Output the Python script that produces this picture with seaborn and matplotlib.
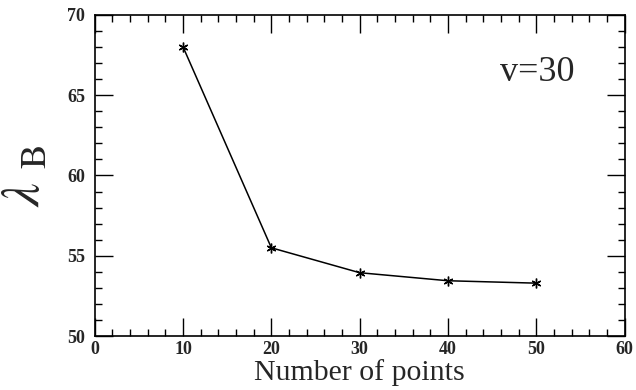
import matplotlib
matplotlib.use("Agg")
import matplotlib.pyplot as plt
from matplotlib.ticker import MultipleLocator
import seaborn as sns
import pandas as pd

# values
n_points = [10, 20, 30, 40, 50]
lambda_b = [68.0, 55.5, 53.95, 53.45, 53.3]

df = pd.DataFrame({"n": n_points, "lam": lambda_b})

sns.set_style("ticks")
plt.rcParams["font.family"] = ["Liberation Serif", "DejaVu Serif"]
plt.rcParams["mathtext.fontset"] = "stix"

fig = plt.figure(figsize=(6.36, 3.9), dpi=100)
ax = fig.add_axes([0.149, 0.138, 0.833, 0.824])

sns.lineplot(data=df, x="n", y="lam", ax=ax, color="black", linewidth=1.1,
             marker=(6, 2, 0), markersize=7, markeredgewidth=1.0,
             markeredgecolor="black")

ax.set_xlim(0, 60)
ax.set_ylim(50, 70)
ax.xaxis.set_major_locator(MultipleLocator(10))
ax.xaxis.set_minor_locator(MultipleLocator(2))
ax.yaxis.set_major_locator(MultipleLocator(5))
ax.yaxis.set_minor_locator(MultipleLocator(1))
ax.tick_params(which="both", direction="in", top=True, right=True,
               labelsize=13, width=1.0, color="black")
ax.tick_params(which="major", length=13)
ax.tick_params(which="minor", length=5)
ax.tick_params(axis="y", pad=7)
for s in ax.spines.values():
    s.set_linewidth(1.2)
    s.set_color("black")
for lab in ax.get_xticklabels() + ax.get_yticklabels():
    lab.set_fontweight("bold")

ax.set_xlabel("Number of points", fontsize=21.5, labelpad=1)
ax.set_ylabel(r"$\lambda$ $_{\mathrm{B}}$", fontsize=38, labelpad=12)
ax.text(0.905, 0.82, "v=30", transform=ax.transAxes, fontsize=26,
        ha="right", va="center")

fig.savefig("out.png", dpi=100)
